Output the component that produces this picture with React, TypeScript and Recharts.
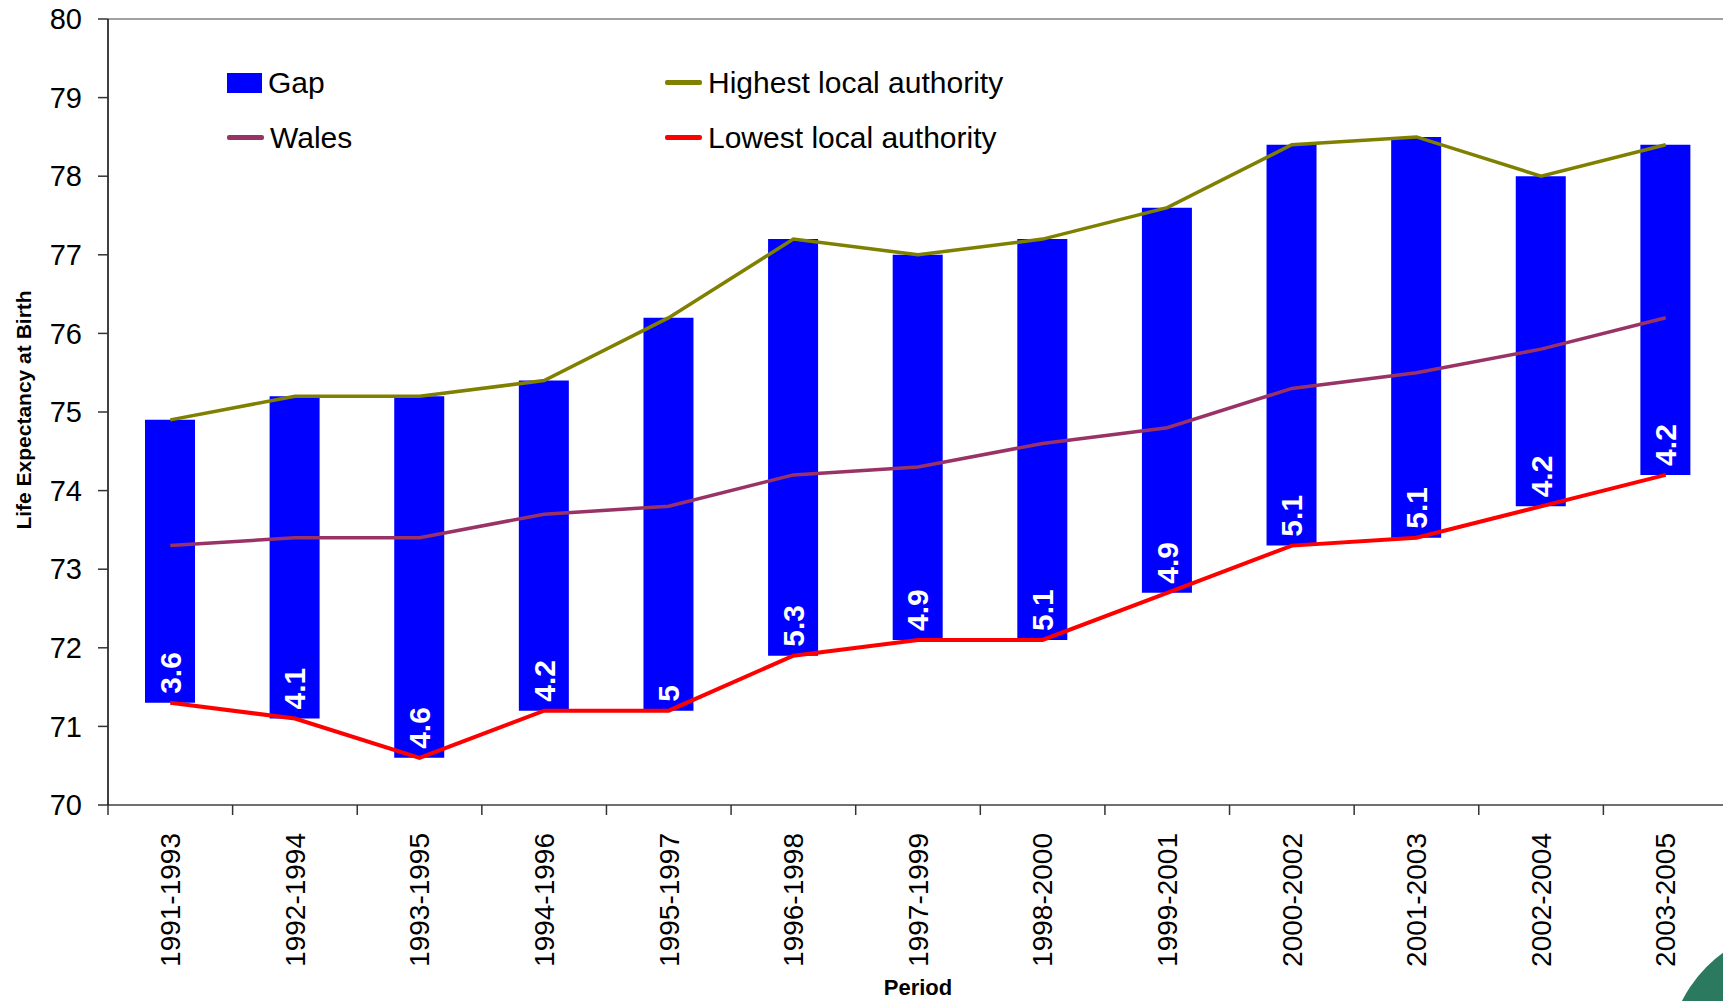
import React from "react";
import { Bar, ComposedChart, Label, LabelList, Legend, Line, ReferenceLine, XAxis, YAxis } from "recharts";

const periods = [
  "1991-1993", "1992-1994", "1993-1995", "1994-1996", "1995-1997", "1996-1998", "1997-1999",
  "1998-2000", "1999-2001", "2000-2002", "2001-2003", "2002-2004", "2003-2005",
];
const highest = [74.9, 75.2, 75.2, 75.4, 76.2, 77.2, 77.0, 77.2, 77.6, 78.4, 78.5, 78.0, 78.4];
const wales = [73.3, 73.4, 73.4, 73.7, 73.8, 74.2, 74.3, 74.6, 74.8, 75.3, 75.5, 75.8, 76.2];
const lowest = [71.3, 71.1, 70.6, 71.2, 71.2, 71.9, 72.1, 72.1, 72.7, 73.3, 73.4, 73.8, 74.2];
const gaps = [3.6, 4.1, 4.6, 4.2, 5, 5.3, 4.9, 5.1, 4.9, 5.1, 5.1, 4.2, 4.2];
const yTicks = [70, 71, 72, 73, 74, 75, 76, 77, 78, 79, 80];

const legendItems = [
  { name: "Gap", color: "#0000ff", kind: "box" },
  { name: "Highest local authority", color: "#808000", kind: "line" },
  { name: "Wales", color: "#993366", kind: "line" },
  { name: "Lowest local authority", color: "#ff0000", kind: "line" },
];

// floating bar spans from the lowest authority up by the gap
const data = periods.map((period, i) => ({
  period,
  highest: highest[i],
  wales: wales[i],
  lowest: lowest[i],
  gap: gaps[i],
  range: [lowest[i], lowest[i] + gaps[i]],
}));

const FONT = "'Liberation Sans', Arial, sans-serif";
const TICK_SIZE = 10;
const TICK_MARGIN = 18;

function PeriodTick(props: any) {
  const { x, y, payload, index } = props;
  const half = payload?.offset ?? 62.3;
  const axisY = y - TICK_SIZE - TICK_MARGIN;
  return (
    <g>
      <line x1={x - half} x2={x - half} y1={axisY} y2={axisY + TICK_SIZE} stroke="#333" strokeWidth={1.5} />
      {index === periods.length - 1 && (
        <line x1={x + half} x2={x + half} y1={axisY} y2={axisY + TICK_SIZE} stroke="#333" strokeWidth={1.5} />
      )}
      <text
        x={x}
        y={y}
        transform={`rotate(-90, ${x}, ${y})`}
        textAnchor="end"
        dy="0.35em"
        fontSize={28}
        fill="#000"
      >
        {payload.value}
      </text>
    </g>
  );
}

function GapLabel(props: any) {
  const { x, y, width, height, value } = props;
  const cx = x + width / 2;
  const cy = y + height - 9;
  return (
    <text
      x={cx}
      y={cy}
      transform={`rotate(-90, ${cx}, ${cy})`}
      textAnchor="start"
      dy="0.36em"
      fontSize={30}
      fontWeight="bold"
      fill="#fff"
    >
      {value}
    </text>
  );
}

function YTitle({ viewBox }: any) {
  const cx = viewBox.x + 24;
  const cy = viewBox.y + viewBox.height / 2 - 2;
  return (
    <text
      x={cx}
      y={cy}
      transform={`rotate(-90, ${cx}, ${cy})`}
      textAnchor="middle"
      dy="0.35em"
      fontSize={21}
      fontWeight="bold"
      fill="#000"
    >
      Life Expectancy at Birth
    </text>
  );
}

function XTitle({ viewBox }: any) {
  return (
    <text x={viewBox.x + viewBox.width / 2} y={viewBox.y + viewBox.height - 6} textAnchor="middle" fontSize={22} fontWeight="bold" fill="#000">
      Period
    </text>
  );
}

function LegendGrid() {
  return (
    <div style={{ display: "grid", gridTemplateColumns: "438px 420px", fontFamily: FONT, fontSize: 30, color: "#000" }}>
      {legendItems.map((item) => (
        <div key={item.name} style={{ display: "flex", alignItems: "center", height: 55 }}>
          {item.kind === "box" ? (
            <span style={{ width: 35, height: 20, background: item.color, marginRight: 6 }} />
          ) : (
            <span style={{ width: 37, height: 4.5, borderRadius: 2, background: item.color, marginRight: 6 }} />
          )}
          <span>{item.name}</span>
        </div>
      ))}
    </div>
  );
}

export default function App() {
  return (
    <div
      style={{
        position: "absolute",
        left: 0,
        top: 0,
        width: 1723,
        height: 1001,
        overflow: "hidden",
        background: "#fff",
        fontFamily: FONT,
      }}
    >
      <ComposedChart width={1730} height={1001} data={data} margin={{ top: 19, right: 2, bottom: 0, left: 0 }}>
        <ReferenceLine y={80} stroke="#a0a0a0" strokeWidth={2} />
        <XAxis
          dataKey="period"
          height={196}
          interval={0}
          tickSize={TICK_SIZE}
          tickMargin={TICK_MARGIN}
          tickLine={false}
          axisLine={{ stroke: "#404040", strokeWidth: 1.5 }}
          tick={(p: any) => <PeriodTick {...p} />}
        >
          <Label content={XTitle} />
        </XAxis>
        <YAxis
          type="number"
          domain={[70, 80]}
          ticks={yTicks}
          interval={0}
          width={108}
          tickSize={10}
          tickMargin={16}
          axisLine={{ stroke: "#000", strokeWidth: 1.5 }}
          tickLine={{ stroke: "#333", strokeWidth: 1.5 }}
          tick={{ fill: "#000", fontSize: 29 }}
        >
          <Label content={YTitle} />
        </YAxis>
        <Legend
          layout="vertical"
          align="center"
          verticalAlign="middle"
          content={() => <LegendGrid />}
          wrapperStyle={{ left: 227, top: 55, width: 860, height: 110 }}
        />
        <Bar dataKey="range" name="Gap" fill="#0000ff" barSize={50} isAnimationActive={false}>
          <LabelList dataKey="gap" content={GapLabel} />
        </Bar>
        <Line type="linear" dataKey="wales" name="Wales" stroke="#993366" strokeWidth={3.5} dot={false} activeDot={false} isAnimationActive={false} />
        <Line type="linear" dataKey="highest" name="Highest local authority" stroke="#808000" strokeWidth={3.5} dot={false} activeDot={false} isAnimationActive={false} />
        <Line type="linear" dataKey="lowest" name="Lowest local authority" stroke="#ff0000" strokeWidth={4} dot={false} activeDot={false} isAnimationActive={false} />
      </ComposedChart>
      <div
        style={{
          position: "absolute",
          left: 1668,
          top: 928,
          width: 264,
          height: 264,
          borderRadius: "50%",
          background: "#2b7a5f",
        }}
      />
    </div>
  );
}
